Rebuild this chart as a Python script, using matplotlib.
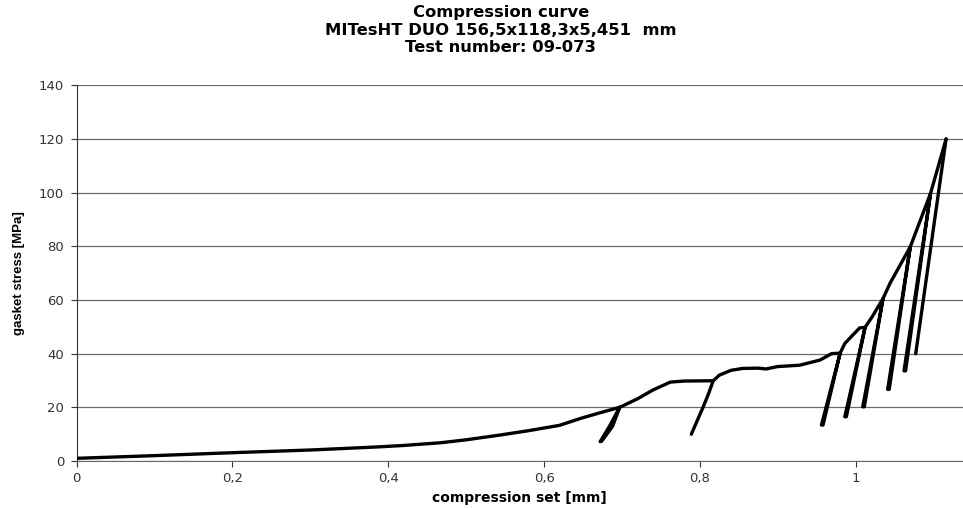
import matplotlib
matplotlib.use("Agg")
import matplotlib.pyplot as plt

plt.rcParams['font.family'] = ['DejaVu Sans']

# loading envelope (compression set [mm], gasket stress [MPa])
env_x = [0.0, 0.1, 0.2, 0.3, 0.39, 0.42, 0.467, 0.5, 0.544, 0.58, 0.62, 0.646, 0.672, 0.697,
         0.72, 0.74, 0.762, 0.78, 0.817, 0.825, 0.84, 0.855, 0.875, 0.885, 0.9, 0.928, 0.954,
         0.969, 0.98, 0.986, 1.005, 1.012, 1.021, 1.035, 1.044, 1.070, 1.096, 1.116]
env_y = [1.0, 2.0, 3.1, 4.1, 5.3, 5.8, 6.8, 7.9, 9.7, 11.3, 13.3, 15.8, 18.0, 20.0,
         23.2, 26.5, 29.4, 29.8, 29.9, 32.0, 33.8, 34.5, 34.6, 34.3, 35.2, 35.7, 37.6,
         40.0, 40.2, 43.8, 49.6, 49.8, 53.7, 60.5, 66.2, 79.8, 99.7, 120.0]

# unloading / reloading cycles
loop1_x = [0.697, 0.684, 0.672, 0.674, 0.688, 0.697]
loop1_y = [20.0, 13.0, 7.2, 7.4, 13.0, 20.0]
loop2_x = [0.817, 0.811, 0.804, 0.789]
loop2_y = [29.9, 25.0, 20.0, 10.0]
loop3_x = [0.980, 0.956, 0.958, 0.980]
loop3_y = [40.2, 13.4, 13.4, 40.2]
loop4_x = [1.012, 0.986, 0.988, 1.012]
loop4_y = [49.8, 16.5, 16.5, 49.8]
loop5_x = [1.035, 1.009, 1.011, 1.035]
loop5_y = [60.5, 20.2, 20.2, 60.5]
loop6_x = [1.070, 1.041, 1.043, 1.070]
loop6_y = [79.8, 26.7, 26.7, 79.8]
loop7_x = [1.096, 1.062, 1.064, 1.096]
loop7_y = [99.7, 33.6, 33.6, 99.7]
final_x = [1.116, 1.077]
final_y = [120.0, 40.0]

x_ticks = [0, 0.2, 0.4, 0.6, 0.8, 1]
x_labels = ['0', '0,2', '0,4', '0,6', '0,8', '1']
y_ticks = [0, 20, 40, 60, 80, 100, 120, 140]

fig = plt.figure(figsize=(9.63, 5.08), dpi=100)
ax = fig.add_axes([0.0796, 0.0925, 0.9204, 0.7396])

ax.plot(env_x, env_y, color='black', lw=2.4, solid_capstyle='round', zorder=3)
for lx, ly in [(loop1_x, loop1_y), (loop2_x, loop2_y), (loop3_x, loop3_y), (loop4_x, loop4_y),
               (loop5_x, loop5_y), (loop6_x, loop6_y), (loop7_x, loop7_y), (final_x, final_y)]:
    ax.plot(lx, ly, color='black', lw=2.4, solid_capstyle='round', zorder=3)

ax.set_xlim(0, 1.1377)
ax.set_ylim(0, 140)
ax.set_xticks(x_ticks)
ax.set_xticklabels(x_labels)
ax.set_yticks(y_ticks)
ax.grid(True, axis='y', color='#6a6a6a', lw=0.9)
ax.set_axisbelow(True)
for s in ['top', 'right']:
    ax.spines[s].set_visible(False)
ax.spines['left'].set_color('#333333')
ax.spines['bottom'].set_color('#6a6a6a')
ax.tick_params(axis='both', colors='#333333', labelsize=9.5, length=4, width=0.8)
ax.tick_params(axis='y', pad=5)
ax.tick_params(axis='x', pad=4)

ax.set_xlabel("compression set [mm]", fontsize=10, fontweight='bold', labelpad=4)
ax.set_ylabel("gasket stress [MPa]", fontsize=9.5, fontweight='bold', labelpad=10,
              family='Liberation Sans')

fig.text(0.52, 0.99, "Compression curve\nMITesHT DUO 156,5x118,3x5,451  mm\nTest number: 09-073",
         ha='center', va='top', fontsize=11.8, fontweight='bold', linespacing=1.22)

plt.savefig("out.png", dpi=100)
plt.close()
